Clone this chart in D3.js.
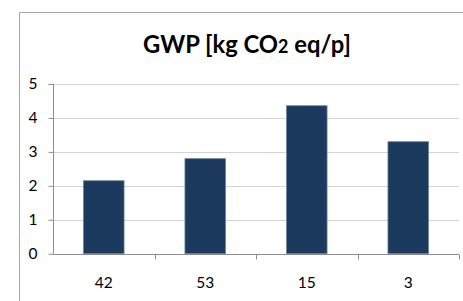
<!DOCTYPE html>
<html>
<head>
<meta charset="UTF-8">
<title>GWP</title>
<script src="https://cdn.jsdelivr.net/npm/d3@7"></script>
<style>
  body { margin: 0; background: #fff; }
  text { font-family: Lato, "Open Sans", sans-serif; fill: #000; }
</style>
</head>
<body>
<svg id="svg" width="463" height="301"></svg>
<script>
  // data
  const categories = ["42", "53", "15", "3"];
  const values = [2.15, 2.80, 4.36, 3.30];
  const yTicks = [0, 1, 2, 3, 4, 5];

  const svg = d3.select("#svg");
  const plotLeft = 53, plotRight = 459, plotTop = 84, plotBottom = 253.7;

  // chart frame (only left and top edges are visible)
  svg.append("path")
    .attr("d", "M19.5,301 V12.5 H463")
    .attr("fill", "none")
    .attr("stroke", "#a6a6a6")
    .attr("stroke-width", 1);

  const x = d3.scaleBand().domain(categories).range([plotLeft, plotRight]).paddingInner(0.6).paddingOuter(0.3);
  const xAxisScale = d3.scaleBand().domain(categories).range([plotLeft, plotRight]);
  const y = d3.scaleLinear().domain([0, 5]).range([plotBottom, plotTop]);

  // gridlines
  svg.append("g").selectAll("line")
    .data(yTicks.filter(d => d > 0))
    .enter().append("line")
    .attr("x1", plotLeft).attr("x2", plotRight)
    .attr("y1", d => Math.round(y(d)) + 0.5).attr("y2", d => Math.round(y(d)) + 0.5)
    .attr("stroke", "#d4d4d4");

  // bars
  svg.append("g").selectAll("rect")
    .data(values)
    .enter().append("rect")
    .attr("x", (d, i) => x(categories[i]))
    .attr("width", x.bandwidth())
    .attr("y", d => y(d))
    .attr("height", d => y(0) - y(d))
    .attr("fill", "#1b3a5e")
    .attr("stroke", "#6b84a2")
    .attr("stroke-width", 0.8);

  // y axis
  const yAxis = svg.append("g")
    .attr("transform", "translate(" + (plotLeft + 0.5) + ",0)")
    .call(d3.axisLeft(y).tickValues(yTicks).tickSize(5).tickPadding(11).tickFormat(d3.format("d")));
  yAxis.select(".domain").attr("stroke", "#8c8c8c").attr("d", "M0," + y(5) + "V" + y(0));
  yAxis.selectAll(".tick line").attr("stroke", "#8c8c8c");
  yAxis.selectAll("text").style("font-size", "15.5px").attr("fill", "#000")
    .style("font-family", "Lato, sans-serif");

  // x axis
  const xAxis = svg.append("g")
    .attr("transform", "translate(0," + (Math.round(plotBottom) + 0.5) + ")")
    .call(d3.axisBottom(xAxisScale).tickSize(0).tickPadding(22));
  xAxis.select(".domain").attr("stroke", "#8c8c8c").attr("d", "M" + plotLeft + ",0H" + plotRight);
  xAxis.selectAll("text").style("font-size", "15.5px").attr("fill", "#000")
    .style("font-family", "Lato, sans-serif");
  xAxis.selectAll("line.sep")
    .data(xAxisScale.domain().map(d => xAxisScale(d) + xAxisScale.bandwidth()))
    .enter().append("line")
    .attr("class", "sep")
    .attr("x1", d => Math.round(d) + 0.5).attr("x2", d => Math.round(d) + 0.5)
    .attr("y1", 0).attr("y2", 5)
    .attr("stroke", "#8c8c8c");

  // title
  const title = svg.append("text")
    .attr("x", 247).attr("y", 53)
    .attr("text-anchor", "middle")
    .style("font-size", "24px")
    .style("font-weight", "bold");
  title.append("tspan").text("GWP [kg CO");
  title.append("tspan").style("font-size", "18px").text("2");
  title.append("tspan").text(" eq/p]");
  // squeeze to the narrow width of the original face
  const tw = title.node().getComputedTextLength();
  if (tw > 208) title.attr("textLength", 208).attr("lengthAdjust", "spacingAndGlyphs");
</script>
</body>
</html>
